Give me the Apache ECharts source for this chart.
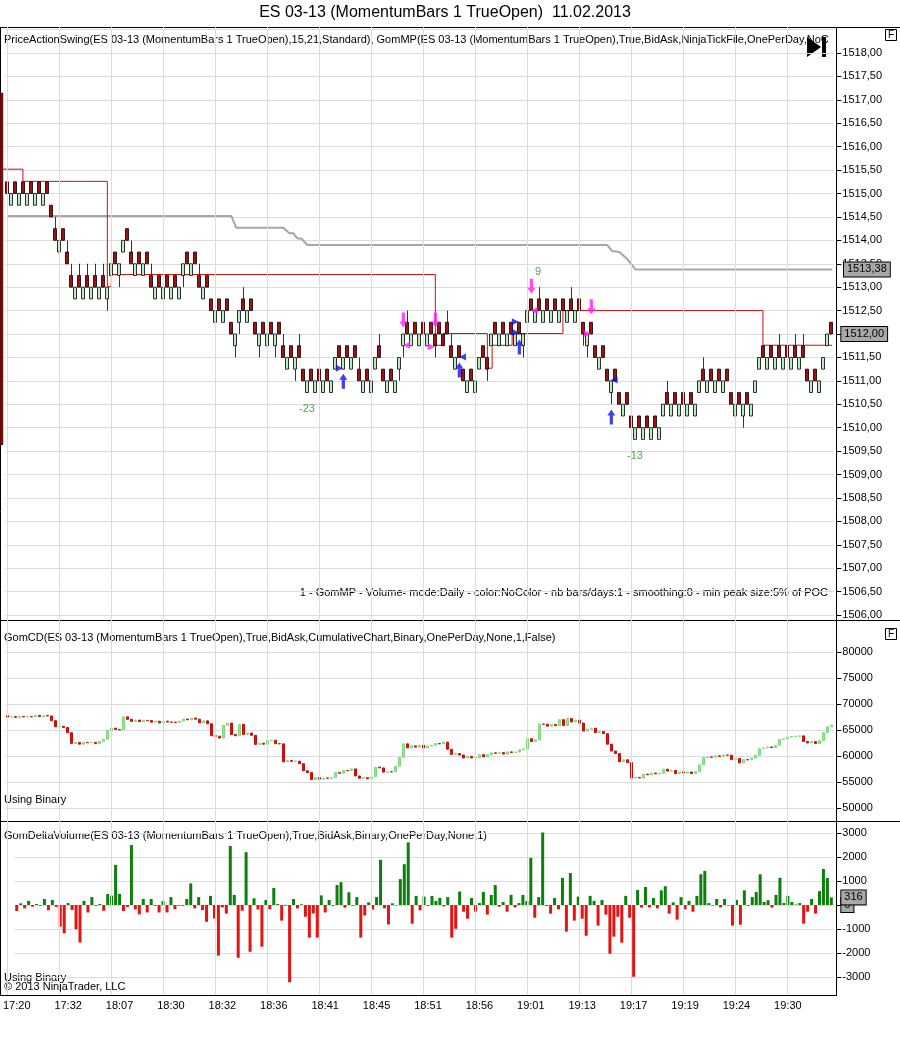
<!DOCTYPE html>
<html><head><meta charset="utf-8">
<script src="https://cdn.jsdelivr.net/npm/echarts@6/dist/echarts.min.js"></script>
<style>html,body{margin:0;padding:0;background:#fff}#c{width:900px;height:1039px}</style>
</head><body><div id="c"></div><script>
const timeLabels = ['17:20','17:32','18:07','18:30','18:32','18:36','18:41','18:45','18:51','18:56','19:01','19:13','19:17','19:19','19:24','19:30'];

const priceOpen = [
1515.25,1514.75,1515.25,1514.75,1515.25,1514.75,1515.25,1514.75,1515.25,1514.75,
1515.25,1514.75,1514.25,1513.75,1514.25,1513.75,1513.25,1512.75,1513.25,1512.75,
1513.25,1512.75,1513.25,1512.75,1513.25,1512.75,1513.25,1513.75,1513.25,1513.75,
1514.25,1513.75,1513.25,1513.75,1513.25,1513.75,1513.25,1512.75,1513.25,1512.75,
1513.25,1512.75,1513.25,1512.75,1513.25,1513.75,1513.25,1513.75,1513.25,1512.75,
1513.25,1512.75,1512.25,1512.75,1512.25,1512.75,1512.25,1511.75,1512.25,1512.75,
1512.25,1512.75,1512.25,1511.75,1512.25,1511.75,1512.25,1511.75,1512.25,1511.75,
1511.25,1511.75,1511.25,1511.75,1511.25,1510.75,1511.25,1510.75,1511.25,1510.75,
1511.25,1510.75,1511.25,1511.75,1511.25,1511.75,1511.25,1511.75,1511.25,1510.75,
1511.25,1510.75,1511.25,1511.75,1511.25,1510.75,1511.25,1510.75,1511.25,1511.75,
1512.25,1511.75,1512.25,1511.75,1512.25,1511.75,1512.25,1512,1512.25,1512,
1512.25,1511.75,1511.25,1511.75,1511.25,1510.75,1511.25,1510.75,1511.25,1511.75,
1511.5,1511.75,1512.25,1511.75,1512.25,1511.75,1512.25,1511.75,1512.25,1511.75,
1512.25,1512.75,1512.25,1512.75,1512.25,1512.75,1512.25,1512.75,1512.25,1512.75,
1512.25,1512.75,1512.25,1512.75,1512.25,1511.75,1512.25,1511.75,1511.25,1511.75,
1511.25,1510.75,1511.25,1510.75,1510.25,1510.75,1510.25,1509.75,1510.25,1509.75,
1510.25,1509.75,1510.25,1509.75,1510.25,1510.75,1510.25,1510.75,1510.25,1510.75,
1510.25,1510.75,1510.25,1510.75,1511.25,1510.75,1511.25,1510.75,1511.25,1510.75,
1511.25,1510.75,1510.25,1510.75,1510.25,1510.75,1510.25,1510.75,1511.25,1511.75,
1511.25,1511.75,1511.25,1511.75,1511.25,1511.75,1511.25,1511.75,1511.25,1511.75,
1511.25,1510.75,1511.25,1510.75,1511.25,1511.75,1512.25];

const priceClose = [
1515,1515,1515,1515,1515,1515,1515,1515,1515,1515,
1515,1514.5,1514,1514,1514,1513.5,1513,1513,1513,1513,
1513,1513,1513,1513,1513,1513,1513.5,1513.5,1513.5,1514,
1514,1513.5,1513.5,1513.5,1513.5,1513.5,1513,1513,1513,1513,
1513,1513,1513,1513,1513.5,1513.5,1513.5,1513.5,1513,1513,
1513,1512.5,1512.5,1512.5,1512.5,1512.5,1512,1512,1512.5,1512.5,
1512.5,1512.5,1512,1512,1512,1512,1512,1512,1512,1511.5,
1511.5,1511.5,1511.5,1511.5,1511,1511,1511,1511,1511,1511,
1511,1511,1511.5,1511.5,1511.5,1511.5,1511.5,1511.5,1511,1511,
1511,1511,1511.5,1511.5,1511,1511,1511,1511,1511.5,1512,
1512,1512,1512,1512,1512,1512,1512,1511.75,1512,1511.75,
1512,1511.5,1511.5,1511.5,1511,1511,1511,1511,1511.5,1511.5,
1511.25,1512,1512,1512,1512,1512,1512,1512,1512,1512,
1512.5,1512.5,1512.5,1512.5,1512.5,1512.5,1512.5,1512.5,1512.5,1512.5,
1512.5,1512.5,1512.5,1512.5,1512,1512,1512,1511.5,1511.5,1511.5,
1511,1511,1511,1510.5,1510.5,1510.5,1510,1510,1510,1510,
1510,1510,1510,1510,1510.5,1510.5,1510.5,1510.5,1510.5,1510.5,
1510.5,1510.5,1510.5,1511,1511,1511,1511,1511,1511,1511,
1511,1510.5,1510.5,1510.5,1510.5,1510.5,1510.5,1511,1511.5,1511.5,
1511.5,1511.5,1511.5,1511.5,1511.5,1511.5,1511.5,1511.5,1511.5,1511.5,
1511,1511,1511,1511,1511.5,1512,1512];

const wickHigh = {12:1514.5,15:1514,16:1513.5,18:1513.5,20:1513.5,22:1513.5,24:1513.5,31:1514,36:1513.5,48:1513.5,
  59:1513,69:1512,73:1512,88:1511.5,93:1512,100:1512.5,110:1512.5,111:1512,133:1513,141:1513,165:1511,174:1511.5,
  193:1512,197:1512,199:1512};
const wickLow = {25:1512.5,28:1513,44:1513,52:1512,57:1511.5,58:1512,63:1511.5,67:1511.5,72:1511,98:1511,99:1511.5,
  107:1511.5,120:1511,129:1511.5,144:1511.75,145:1511.5,151:1510.5,184:1510};

const grayLine = [[0.2,1514.52],[56,1514.52],[57.2,1514.27],[69,1514.27],[70.5,1514.15],[71.5,1514.15],[72.5,1514.04],
  [73.5,1514.04],[75,1513.9],[150,1513.9],[151.2,1513.77],[153,1513.75],[155,1513.6],[157,1513.38],[206.2,1513.38]];
const pocLine = [[-1.83,1515.52],[3.9,1515.52],[3.9,1515.26],[25,1515.26],[25,1513.01],[26,1513.01],[26,1513.27],
  [107,1513.27],[107,1511.76],[109,1511.76],[109,1512.01],[120,1512.01],[120,1511.27],[121.2,1511.27],[121.2,1511.76],
  [126.2,1511.76],[126.2,1512.01],[138.9,1512.01],[138.9,1512.5],[188.9,1512.5],[188.9,1511.76],[206.2,1511.76]];
const profileBar = [[-1.4,1509.63],[-1.4,1517.15]];

const swingDown = [[99,1512.30],[107,1512.30],[131,1513.02],[146,1512.58]];
const swingUp = [[84,1510.99],[113,1511.23],[128,1511.72],[151,1510.23]];
const triLeftM = [[99.8,1511.76],[131.7,1512.50]];
const triRightM = [[106,1511.73],[145,1512.01]];
const triRightB = [[83,1511.27],[127,1512.26],[127,1512.04]];
const triLeftB = [[113.8,1511.51],[151.7,1511.02]];
const swingLabels = [[74.9,1510.40,'-23'],[132.7,1513.32,'9'],[156.9,1509.39,'-13']];
const priceTags = {gray:1513.38, last:1512.00};

const cdOpenFirst = 67750;
const cdClose = [
67500,67570,67430,67600,67530,67570,67540,67790,67570,67780,
67700,66800,65620,65700,65490,64480,62420,62590,62280,62610,
62580,62620,62380,62840,63230,64900,65360,65110,65030,67530,
67050,66660,66910,66600,66850,66820,66510,66680,66370,66700,
66530,66500,66470,66720,67100,66960,67290,67080,66380,66760,
66200,63900,63810,63450,65910,66330,64130,63890,66090,64140,
64420,63980,62240,62450,62270,62980,63020,62370,62340,58870,
59120,58980,59010,58520,57160,56810,55450,55850,55540,55750,
55720,55850,56800,56690,57220,57190,57520,56160,55720,55830,
55640,55970,57850,57710,56900,56970,56950,58030,59730,62340,
61560,61940,61720,62070,61540,61920,62090,62390,62330,62660,
61300,60310,60470,60190,59620,59910,59630,59710,60250,59850,
60270,60600,60530,60650,60370,60790,60690,60770,61190,61360,
63320,62790,63120,66140,66100,65740,66030,65850,66980,65870,
67200,66550,66900,66330,64800,65180,65350,64490,64700,64300,
62270,60950,60460,58890,59270,58740,55750,55880,55770,56520,
56420,56710,56570,56680,57460,57100,57210,56600,56930,56750,
56920,56640,57020,58300,59720,59800,59780,60030,59930,60180,
60160,59300,59510,58690,59300,59270,59600,60140,61420,61540,
61740,61630,62050,63180,63260,63640,63770,63790,63870,62790,
62510,62760,62400,62980,64480,65610,65920];

const deltaVol = [
-250,70,-140,170,-70,40,-30,250,-220,210,
-80,-900,-1180,80,-210,-1010,-1560,170,-310,330,
-30,40,-240,460,390,1670,460,-250,-80,2500,
-180,-390,250,-310,250,-30,-310,170,-310,330,
-170,-30,-30,250,900,-140,330,-210,-700,380,
-560,-2110,-100,-360,2460,420,-2200,-240,2200,-1950,
280,-190,-1740,210,-180,710,40,-650,-30,-3220,
250,-140,30,-490,-1360,-350,-1360,400,-310,210,
-30,830,950,-110,530,-30,330,-1360,-440,110,
-190,330,1880,-140,-810,70,-15,1080,1700,2610,
-780,380,-220,350,-40,380,170,300,-55,330,
-1360,-990,560,-280,-570,290,-280,80,540,-400,
420,830,-70,125,-280,420,-100,80,420,170,
1960,-530,330,3020,-40,-360,290,-180,1130,-1110,
1330,-650,350,-570,-1280,380,170,-860,210,-400,
-2030,-1320,-490,-1570,380,-530,-2990,625,-110,750,
-100,290,-140,610,780,-360,110,-610,330,-180,
170,-280,380,1280,1420,80,-20,250,-100,250,
-20,-860,210,-820,610,-30,330,540,1280,125,
200,-110,420,1130,80,380,125,20,80,-780,
-280,250,-360,580,1500,1130,316];

const FONT = 'Liberation Sans';
const cats = priceOpen.map((_, i) => String(i));
const gridK = timeLabels.map((t, i) => i * 13);

const candleData = priceOpen.map((o, i) => {
  const c = priceClose[i];
  const lo = wickLow[i] !== undefined ? wickLow[i] : Math.min(o, c);
  const hi = wickHigh[i] !== undefined ? wickHigh[i] : Math.max(o, c);
  return [o, c, lo, hi];
});
const cdData = cdClose.map((c, i) => {
  const o = i === 0 ? cdOpenFirst : cdClose[i - 1];
  return [o, c, Math.min(o, c), Math.max(o, c)];
});
const volData = deltaVol.map(v => ({value: v, itemStyle: {color: v >= 0 ? '#0c7f0c' : '#e21414'}}));

const L = 5.33, W = 828;
const KMIN = -1.8325, KMAX = 207.1675;
const splitStyle = {show: true, lineStyle: {color: '#dcdcdc', width: 1}};
const priceFmt = v => v.toFixed(2).replace('.', ',');
function yAx(grid, min, max, interval, fmt, showMax) {
  return {
    type: 'value', gridIndex: grid, position: 'right', min, max, interval, offset: 3,
    axisLine: {show: false, onZero: false}, axisTick: {show: true, inside: false, length: 5, lineStyle: {color: '#000'}},
    axisLabel: {color: '#000', fontSize: 11, fontFamily: FONT, margin: 6, formatter: fmt, showMaxLabel: showMax},
    splitLine: splitStyle
  };
}
function tag(val, text) {
  return {yAxis: val, label: {show: true, position: 'end', distance: 8, formatter: text, backgroundColor: '#a8a8a8',
    borderColor: '#000', borderWidth: 1, padding: [2, 3, 1, 3], color: '#000', fontSize: 11, fontFamily: FONT}};
}
const markTagCommon = {silent: true, symbol: ['none', 'none'], lineStyle: {color: 'rgba(0,0,0,0)', width: 1, type: 'solid'}, animation: false};
const arrowDown = 'path://M3,0L7,0L7,9L10,9L5,15L0,9L3,9Z';
const arrowUp = 'path://M5,0L10,6L7,6L7,15L3,15L3,6L0,6Z';

const chart = echarts.init(document.getElementById('c'), null, {renderer: 'canvas'});
chart.setOption({
  animation: false,
  backgroundColor: '#fff',
  textStyle: {fontFamily: FONT},
  grid: [
    {left: L, top: 29.6, width: W, height: 585.4},
    {left: L, top: 652, width: W, height: 156},
    {left: L, top: 833, width: W, height: 144},
    {left: 0, top: 27, width: 836, height: 968},
    {left: 0, top: 29.6, width: 836, height: 585.4}
  ],
  xAxis: [
    {type: 'category', gridIndex: 0, data: cats, boundaryGap: true, show: false},
    {type: 'category', gridIndex: 1, data: cats, boundaryGap: true, show: false},
    {type: 'category', gridIndex: 2, data: cats, boundaryGap: true, offset: 18,
      axisLine: {show: false}, axisTick: {show: false}, splitLine: {show: false},
      axisLabel: {interval: (i) => i % 13 === 0, formatter: (v, i) => timeLabels[i / 13] || '',
        color: '#000', fontSize: 11, fontFamily: FONT, margin: 5}},
    {type: 'value', gridIndex: 4, min: KMIN, max: KMAX, show: false},
    {type: 'value', gridIndex: 3, min: KMIN, max: KMAX, show: false}
  ],
  yAxis: [
    yAx(0, 1506, 1518.5, 0.5, priceFmt, false),
    yAx(1, 50000, 80000, 5000, v => String(v), true),
    yAx(2, -3000, 3000, 1000, v => String(v), true),
    {type: 'value', gridIndex: 3, min: 0, max: 1, show: false},
    {type: 'value', gridIndex: 4, min: 1506, max: 1518.5, show: false}
  ],
  series: [
    {type: 'line', xAxisIndex: 4, yAxisIndex: 3, data: [], z: 1, silent: true,
      markLine: {silent: true, symbol: ['none', 'none'], animation: false, label: {show: false},
        lineStyle: {color: '#dcdcdc', width: 1, type: 'solid'}, data: gridK.map(k => ({xAxis: k}))}},
    {type: 'line', xAxisIndex: 3, yAxisIndex: 4, data: profileBar, symbol: 'none', z: 7,
      lineStyle: {color: '#7a0c0c', width: 3}},
    {type: 'line', xAxisIndex: 3, yAxisIndex: 4, data: grayLine, symbol: 'none', z: 3,
      lineStyle: {color: '#a6a6a6', width: 2},
      markLine: Object.assign({data: [tag(priceTags.gray, '1513,38')]}, markTagCommon)},
    {type: 'line', xAxisIndex: 3, yAxisIndex: 4, data: pocLine, symbol: 'none', z: 3,
      lineStyle: {color: '#cc1111', width: 1}},
    {type: 'candlestick', xAxisIndex: 0, yAxisIndex: 0, data: candleData, barWidth: 3.6, z: 4,
      itemStyle: {color: '#bfeabf', color0: '#a50f0f', borderColor: '#000', borderColor0: '#000', borderWidth: 0.8},
      markLine: Object.assign({data: [tag(priceTags.last, '1512,00')]}, markTagCommon)},
    {type: 'scatter', xAxisIndex: 3, yAxisIndex: 4, data: swingDown, symbol: arrowDown, symbolSize: [8, 15], z: 6,
      itemStyle: {color: '#ff1aff'}},
    {type: 'scatter', xAxisIndex: 3, yAxisIndex: 4, data: swingUp, symbol: arrowUp, symbolSize: [8, 15], z: 6,
      itemStyle: {color: '#1010ee'}},
    {type: 'scatter', xAxisIndex: 3, yAxisIndex: 4, data: triLeftM, symbol: 'triangle', symbolSize: 7, symbolRotate: 90, z: 6,
      itemStyle: {color: '#ff1aff'}},
    {type: 'scatter', xAxisIndex: 3, yAxisIndex: 4, data: triRightM, symbol: 'triangle', symbolSize: 7, symbolRotate: -90, z: 6,
      itemStyle: {color: '#ff1aff'}},
    {type: 'scatter', xAxisIndex: 3, yAxisIndex: 4, data: triRightB, symbol: 'triangle', symbolSize: 7, symbolRotate: -90, z: 6,
      itemStyle: {color: '#1010ee'}},
    {type: 'scatter', xAxisIndex: 3, yAxisIndex: 4, data: triLeftB, symbol: 'triangle', symbolSize: 7, symbolRotate: 90, z: 6,
      itemStyle: {color: '#1010ee'}},
    {type: 'scatter', xAxisIndex: 3, yAxisIndex: 4, data: swingLabels, symbolSize: 0, z: 6,
      label: {show: true, position: 'inside', formatter: p => p.data[2], color: '#2a8a2a', fontSize: 11, fontFamily: FONT}},
    {type: 'candlestick', xAxisIndex: 1, yAxisIndex: 1, data: cdData, barWidth: 3, z: 4,
      itemStyle: {color: '#93e893', color0: '#e01010', borderColor: '#7fd87f', borderColor0: '#c80c0c', borderWidth: 1}},
    {type: 'bar', xAxisIndex: 2, yAxisIndex: 2, data: volData, barWidth: 3, clip: false, z: 4,
      markLine: Object.assign({data: [tag(0, '0'), tag(316, '316')]}, markTagCommon)}
  ],
  graphic: [
    {type: 'text', x: 445, y: 13, style: {text: 'ES 03-13 (MomentumBars 1 TrueOpen)  11.02.2013', fill: '#000',
      font: '16px "Liberation Sans"', textAlign: 'center', textVerticalAlign: 'middle'}},
    {type: 'line', shape: {x1: 0, y1: 27.5, x2: 900, y2: 27.5}, style: {stroke: '#000', lineWidth: 1}},
    {type: 'line', shape: {x1: 0, y1: 620.5, x2: 900, y2: 620.5}, style: {stroke: '#000', lineWidth: 1}},
    {type: 'line', shape: {x1: 0, y1: 821.5, x2: 900, y2: 821.5}, style: {stroke: '#000', lineWidth: 1}},
    {type: 'line', shape: {x1: 0, y1: 995.5, x2: 836.5, y2: 995.5}, style: {stroke: '#000', lineWidth: 1}},
    {type: 'line', shape: {x1: 836.5, y1: 27, x2: 836.5, y2: 996}, style: {stroke: '#000', lineWidth: 1}},
    {type: 'line', shape: {x1: 0.5, y1: 27, x2: 0.5, y2: 996}, style: {stroke: '#000', lineWidth: 1}},
    {type: 'text', x: 4, y: 40, style: {text: 'PriceActionSwing(ES 03-13 (MomentumBars 1 TrueOpen),15,21,Standard), GomMP(ES 03-13 (MomentumBars 1 TrueOpen),True,BidAsk,NinjaTickFile,OnePerDay,NoColor,Daily)',
      fill: '#000', font: '11px "Liberation Sans"', textVerticalAlign: 'middle', width: 828, overflow: 'truncate', ellipsis: ''}},
    {type: 'text', x: 828, y: 593, style: {text: '1 - GomMP - Volume- mode:Daily - color:NoColor - nb bars/days:1 - smoothing:0 - min peak size:5% of POC',
      fill: '#000', font: '11px "Liberation Sans"', textAlign: 'right', textVerticalAlign: 'middle'}},
    {type: 'text', x: 4, y: 638, style: {text: 'GomCD(ES 03-13 (MomentumBars 1 TrueOpen),True,BidAsk,CumulativeChart,Binary,OnePerDay,None,1,False)',
      fill: '#000', font: '11px "Liberation Sans"', textVerticalAlign: 'middle'}},
    {type: 'text', x: 4, y: 800, style: {text: 'Using Binary', fill: '#000', font: '11px "Liberation Sans"', textVerticalAlign: 'middle'}},
    {type: 'text', x: 4, y: 836, style: {text: 'GomDeltaVolume(ES 03-13 (MomentumBars 1 TrueOpen),True,BidAsk,Binary,OnePerDay,None,1)',
      fill: '#000', font: '11px "Liberation Sans"', textVerticalAlign: 'middle'}},
    {type: 'text', x: 4, y: 978, style: {text: 'Using Binary', fill: '#000', font: '11px "Liberation Sans"', textVerticalAlign: 'middle'}},
    {type: 'text', x: 4, y: 987, style: {text: '\u00a9 2013 NinjaTrader, LLC', fill: '#000', font: '11px "Liberation Sans"', textVerticalAlign: 'middle'}},
    {type: 'rect', shape: {x: 885.5, y: 29.5, width: 11, height: 11}, style: {fill: '#fff', stroke: '#000', lineWidth: 1}},
    {type: 'text', x: 891, y: 35.5, style: {text: 'F', fill: '#000', font: '10px "Liberation Sans"', textAlign: 'center', textVerticalAlign: 'middle'}},
    {type: 'rect', shape: {x: 885.5, y: 628.5, width: 11, height: 11}, style: {fill: '#fff', stroke: '#000', lineWidth: 1}},
    {type: 'text', x: 891, y: 634.5, style: {text: 'F', fill: '#000', font: '10px "Liberation Sans"', textAlign: 'center', textVerticalAlign: 'middle'}},
    {type: 'polygon', shape: {points: [[807, 37], [807, 57], [821, 47]]}, style: {fill: '#000'}},
    {type: 'rect', shape: {x: 822, y: 37, width: 4, height: 20}, style: {fill: '#000'}}
  ]
});
</script></body></html>
